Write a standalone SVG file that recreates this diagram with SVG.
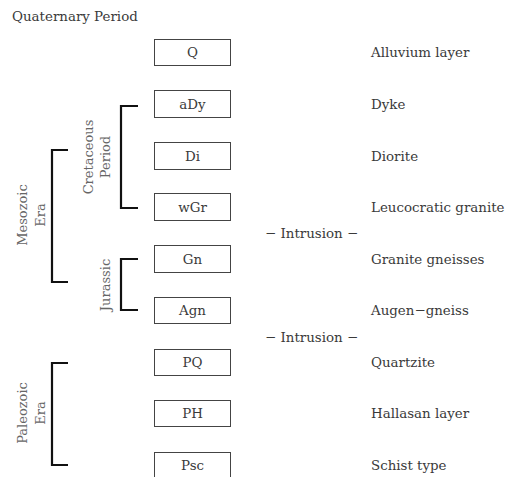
<svg xmlns="http://www.w3.org/2000/svg" width="511" height="477" viewBox="0 0 511 477">
<style>
text{font-family:"DejaVu Serif","Liberation Serif",serif;font-size:13.4px;fill:#3a3a3a}
.box{fill:#fff;stroke:#444;stroke-width:1}
.lbl{text-anchor:middle}
.rot{text-anchor:middle;fill:#666;font-size:13px}
.br{fill:none;stroke:#111;stroke-width:2.2}
</style>
<rect width="511" height="477" fill="#fff"/>
<text x="12" y="21">Quaternary Period</text>
<g id="brackets">
<path class="br" d="M138,106H121V208H138"/>
<path class="br" d="M68,150H52V282H68"/>
<path class="br" d="M138,259H121V310H138"/>
<path class="br" d="M68,363H52V465H68"/>
</g>
<g id="era-labels">
<text class="rot" transform="translate(27,215) rotate(-90)">Mesozoic</text>
<text class="rot" transform="translate(45,215) rotate(-90)">Era</text>
<text class="rot" transform="translate(93,157) rotate(-90)">Cretaceous</text>
<text class="rot" transform="translate(110,157) rotate(-90)">Period</text>
<text class="rot" transform="translate(110,285) rotate(-90)">Jurassic</text>
<text class="rot" transform="translate(27,413) rotate(-90)">Paleozoic</text>
<text class="rot" transform="translate(45,413) rotate(-90)">Era</text>
</g>
<g id="Q"><rect class="box" x="154.5" y="39.5" width="76" height="26"/><text class="lbl" x="192.5" y="57">Q</text><text x="371" y="57">Alluvium layer</text></g>
<g id="aDy"><rect class="box" x="154.5" y="90.5" width="76" height="27"/><text class="lbl" x="192.5" y="109">aDy</text><text x="371" y="109">Dyke</text></g>
<g id="Di"><rect class="box" x="154.5" y="142.5" width="76" height="27"/><text class="lbl" x="192.5" y="161">Di</text><text x="371" y="161">Diorite</text></g>
<g id="wGr"><rect class="box" x="154.5" y="193.5" width="76" height="27"/><text class="lbl" x="192.5" y="212">wGr</text><text x="371" y="212">Leucocratic granite</text></g>
<g id="Gn"><rect class="box" x="154.5" y="245.5" width="76" height="27"/><text class="lbl" x="192.5" y="264">Gn</text><text x="371" y="264">Granite gneisses</text></g>
<g id="Agn"><rect class="box" x="154.5" y="297.5" width="76" height="26"/><text class="lbl" x="192.5" y="315">Agn</text><text x="371" y="315">Augen−gneiss</text></g>
<g id="PQ"><rect class="box" x="154.5" y="349.5" width="76" height="26"/><text class="lbl" x="192.5" y="367">PQ</text><text x="371" y="367">Quartzite</text></g>
<g id="PH"><rect class="box" x="154.5" y="400.5" width="76" height="26"/><text class="lbl" x="192.5" y="418">PH</text><text x="371" y="418">Hallasan layer</text></g>
<g id="Psc"><rect class="box" x="154.5" y="452.5" width="76" height="30"/><text class="lbl" x="192.5" y="470">Psc</text><text x="371" y="470">Schist type</text></g>
<g id="intrusions">
<text x="265" y="238">− Intrusion −</text>
<text x="265" y="342">− Intrusion −</text>
</g>
</svg>
